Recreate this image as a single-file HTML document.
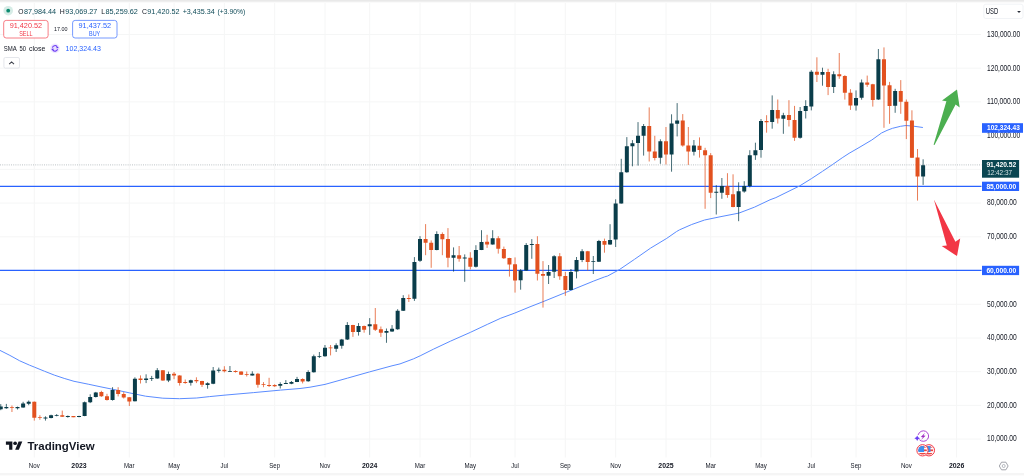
<!DOCTYPE html><html><head><meta charset="utf-8"><title>chart</title><style>html,body{margin:0;padding:0;background:#fff}svg{display:block;will-change:transform}text{font-family:"Liberation Sans",sans-serif}</style></head><body>
<svg width="1024" height="476" viewBox="0 0 1024 476">
<rect width="1024" height="476" fill="#fff"/>
<path d="M34.3 2.5V457.5 M79.0 2.5V457.5 M129.3 2.5V457.5 M174.1 2.5V457.5 M224.4 2.5V457.5 M274.7 2.5V457.5 M325.0 2.5V457.5 M369.7 2.5V457.5 M420.0 2.5V457.5 M470.3 2.5V457.5 M515.0 2.5V457.5 M565.3 2.5V457.5 M615.7 2.5V457.5 M666.0 2.5V457.5 M710.7 2.5V457.5 M761.0 2.5V457.5 M811.3 2.5V457.5 M856.0 2.5V457.5 M906.3 2.5V457.5 M956.6 2.5V457.5 M0 439.1H981 M0 405.4H981 M0 371.7H981 M0 338.0H981 M0 304.3H981 M0 270.5H981 M0 236.8H981 M0 203.1H981 M0 169.4H981 M0 135.7H981 M0 101.9H981 M0 68.2H981 M0 34.5H981" stroke="#f5f6f6" stroke-width="1" fill="none"/>
<path d="M0 186.4H981.5M0 270.45H981.5" stroke="#2962ff" stroke-width="1.3" fill="none"/>
<path d="M0 164.9H981.5" stroke="#bcc3c6" stroke-width="1" stroke-dasharray="1 1.2" fill="none"/>
<path d="M0.0 350.4 L9.9 355.4 L19.7 360.8 L29.6 365.2 L34.6 367.2 L44.4 371.2 L54.3 375.1 L64.2 378.4 L74.0 381.3 L79.0 382.3 L88.8 384.3 L100.0 386.7 L112.3 389.2 L129.2 392.8 L145.6 396.2 L162.8 398.2 L179.5 398.7 L196.7 398.0 L209.6 396.6 L224.0 395.2 L253.7 392.6 L280.6 390.1 L300.0 388.5 L310.0 387.2 L325.0 384.4 L347.6 378.1 L369.5 371.9 L392.0 365.8 L400.0 363.9 L413.4 358.9 L420.2 355.8 L433.6 349.1 L450.4 341.2 L470.5 332.3 L487.3 324.4 L500.8 318.2 L514.2 313.3 L530.0 306.8 L543.0 301.7 L565.4 292.6 L593.8 281.0 L604.6 276.9 L607.6 276.0 L619.4 269.6 L634.4 259.4 L650.6 248.1 L666.7 238.4 L676.6 231.5 L679.6 229.8 L691.7 224.5 L704.6 220.0 L720.0 216.8 L738.9 213.1 L754.4 207.2 L770.0 199.8 L775.9 197.6 L799.7 185.9 L811.6 178.5 L822.4 171.4 L832.3 164.7 L842.2 157.8 L849.1 153.3 L859.0 147.6 L871.8 140.0 L881.5 133.0 L887.0 130.4 L892.5 128.3 L900.5 126.3 L906.0 125.5 L913.7 126.2 L922.9 127.5" stroke="#5b8cff" stroke-width="1" fill="none" stroke-linejoin="round"/>
<path d="M0.76 404.1V410.2M6.35 403.9V408.8M17.53 406.6V409.5M23.12 401.8V407.8M28.71 400.5V405.2M45.48 416.3V420.6M51.07 414.7V418.4M56.66 414.1V416.3M67.84 415.5V417.7M79.02 415.8V417.3M84.61 401.5V416.2M90.20 394.3V403.1M95.79 391.9V397.5M112.56 387.2V400.6M134.92 377.3V401.4M146.10 374.3V383.1M151.69 375.9V381.0M157.28 368.1V378.8M168.46 371.6V382.1M190.82 379.7V385.6M207.59 382.3V388.7M213.18 367.0V384.2M218.77 367.6V372.6M229.95 366.0V371.8M252.31 371.3V375.6M280.26 382.3V388.5M285.85 380.1V383.8M291.44 381.0V384.2M297.03 376.9V382.1M308.21 370.3V381.8M313.80 354.6V372.6M319.39 352.0V358.0M324.98 345.0V356.8M336.16 343.3V352.0M341.75 338.9V348.7M347.34 322.1V340.0M358.52 323.1V335.6M369.70 318.1V334.9M386.47 328.5V342.8M392.06 325.1V331.9M397.65 309.2V329.8M403.24 295.2V311.0M414.42 257.1V300.9M420.01 236.1V261.9M436.78 231.3V250.3M453.55 247.4V271.6M464.73 254.4V281.8M475.91 245.2V267.5M481.50 230.2V250.1M492.68 230.2V244.7M520.63 269.2V289.7M526.22 243.1V270.8M531.81 239.1V258.8M548.58 265.0V284.0M554.17 255.2V278.0M570.94 269.0V290.3M576.53 257.0V278.4M582.12 249.2V262.1M593.30 256.0V274.0M598.89 239.9V262.0M610.07 224.2V244.9M615.66 199.3V247.0M621.25 158.8V203.6M626.84 137.1V172.8M632.43 140.1V166.3M638.02 122.1V165.6M643.61 124.0V155.6M660.38 139.3V163.8M671.56 114.3V171.7M677.15 103.1V136.4M693.92 140.0V155.5M716.28 185.2V214.5M721.87 178.0V198.8M738.64 182.3V221.2M744.23 181.2V192.7M749.82 150.2V187.4M755.41 142.7V159.9M761.00 119.0V157.7M772.18 95.4V128.7M783.36 112.8V133.8M800.13 107.0V138.6M805.72 100.2V118.5M811.31 70.2V110.4M822.49 67.7V85.7M833.67 71.3V93.0M856.03 90.4V110.6M861.62 79.5V99.7M878.39 49.0V100.0M895.16 88.8V112.8M923.11 159.3V184.9" stroke="#0a3d4a" stroke-width="0.75" fill="none"/>
<path d="M11.94 405.5V412.0M34.30 401.5V420.6M39.89 415.2V419.8M62.25 410.6V417.0M73.43 416.0V417.2M101.38 390.8V396.9M106.97 393.8V400.6M118.15 387.2V396.4M123.74 392.1V398.5M129.33 397.2V406.0M140.51 375.4V383.5M162.87 370.1V380.8M174.05 372.0V379.2M179.64 375.2V385.6M185.23 379.5V383.8M196.41 377.3V383.1M202.00 380.8V387.0M224.36 366.2V372.4M235.54 370.3V372.6M241.13 371.3V375.0M246.72 371.5V376.5M257.90 372.9V387.7M263.49 382.1V387.2M269.08 377.8V387.0M274.67 384.2V386.9M302.62 378.3V383.4M330.57 345.0V355.4M352.93 324.8V336.9M364.11 325.5V332.7M375.29 308.0V331.0M380.88 326.5V336.9M408.83 294.5V302.0M425.60 224.1V255.2M431.19 240.4V267.8M442.37 232.4V255.2M447.96 228.1V267.3M459.14 246.0V261.7M470.32 252.2V269.4M487.09 234.8V247.9M498.27 236.2V253.6M503.86 246.6V259.0M509.45 257.8V276.6M515.04 257.4V292.6M537.40 236.2V280.5M542.99 261.1V307.6M559.76 253.1V279.8M565.35 271.9V295.8M587.71 250.9V270.5M604.48 238.6V252.7M649.20 107.4V161.5M654.79 135.8V160.4M665.97 127.0V164.5M682.74 114.1V146.7M688.33 127.0V164.9M699.51 137.4V157.6M705.10 147.8V208.8M710.69 153.1V198.1M727.46 173.2V197.8M733.05 174.3V207.3M766.59 115.2V132.7M777.77 99.5V123.5M788.95 100.2V126.5M794.54 105.9V140.9M816.90 57.3V82.0M828.08 68.8V95.1M839.26 53.0V78.8M844.85 75.2V99.6M850.44 89.2V109.9M867.21 75.6V86.9M872.80 83.8V106.6M883.98 47.4V127.8M889.57 81.9V123.8M900.75 80.1V113.8M906.34 99.5V139.1M911.93 110.3V158.0M917.52 149.0V200.6" stroke="#e2511f" stroke-width="0.75" fill="none"/>
<path d="M-1.24 406.4h4V409.3h-4zM4.35 407.1h4V408.2h-4zM15.53 407.1h4V408.2h-4zM21.12 403.4h4V407.4h-4zM26.71 401.8h4V403.7h-4zM43.48 417.4h4V418.4h-4zM49.07 415.2h4V417.9h-4zM54.66 414.9h4V415.8h-4zM65.84 416.1h4V416.9h-4zM77.02 416.0h4V417.1h-4zM82.61 402.3h4V416.0h-4zM88.20 396.9h4V402.3h-4zM93.79 392.6h4V396.9h-4zM110.56 389.9h4V400.1h-4zM132.92 378.8h4V401.2h-4zM144.10 378.4h4V379.9h-4zM149.69 377.9h4V378.8h-4zM155.28 370.3h4V378.6h-4zM166.46 374.1h4V380.6h-4zM188.82 380.2h4V382.7h-4zM205.59 383.3h4V384.9h-4zM211.18 370.5h4V383.7h-4zM216.77 369.8h4V370.7h-4zM227.95 370.9h4V371.8h-4zM250.31 373.7h4V375.4h-4zM278.26 384.0h4V385.8h-4zM283.85 383.0h4V383.9h-4zM289.44 382.1h4V383.7h-4zM295.03 379.1h4V381.9h-4zM306.21 372.0h4V381.3h-4zM311.80 356.3h4V372.2h-4zM317.39 355.9h4V356.8h-4zM322.98 347.8h4V356.3h-4zM334.16 345.3h4V348.7h-4zM339.75 339.4h4V345.7h-4zM345.34 325.1h4V339.4h-4zM356.52 326.0h4V331.9h-4zM367.70 324.3h4V326.3h-4zM384.47 331.0h4V332.7h-4zM390.06 328.8h4V331.5h-4zM395.65 310.8h4V329.3h-4zM401.24 298.1h4V310.8h-4zM412.42 262.1h4V298.8h-4zM418.01 239.1h4V260.8h-4zM434.78 234.0h4V250.1h-4zM451.55 255.2h4V257.8h-4zM462.73 257.6h4V258.4h-4zM473.91 250.1h4V266.7h-4zM479.50 242.0h4V249.9h-4zM490.68 238.3h4V244.5h-4zM518.63 270.4h4V280.2h-4zM524.22 245.0h4V270.6h-4zM529.81 243.9h4V244.9h-4zM546.58 271.9h4V275.7h-4zM552.17 256.3h4V271.7h-4zM568.94 271.9h4V290.1h-4zM574.53 260.0h4V271.6h-4zM580.12 251.3h4V259.9h-4zM591.30 260.9h4V261.8h-4zM596.89 240.9h4V261.7h-4zM608.07 240.0h4V244.5h-4zM613.66 203.4h4V239.5h-4zM619.25 172.2h4V203.4h-4zM624.84 146.2h4V172.2h-4zM630.43 143.2h4V146.2h-4zM636.02 135.8h4V143.1h-4zM641.61 126.1h4V135.8h-4zM658.38 141.2h4V157.7h-4zM669.56 123.5h4V154.5h-4zM675.15 120.6h4V123.8h-4zM691.92 145.6h4V151.8h-4zM714.28 191.7h4V192.7h-4zM719.87 186.1h4V192.7h-4zM736.64 191.3h4V207.0h-4zM742.23 186.1h4V191.6h-4zM747.82 155.2h4V186.1h-4zM753.41 150.2h4V155.2h-4zM759.00 121.1h4V149.9h-4zM770.18 109.9h4V122.0h-4zM781.36 115.2h4V118.8h-4zM798.13 110.9h4V137.8h-4zM803.72 106.1h4V110.9h-4zM809.31 71.7h4V106.6h-4zM820.49 72.0h4V74.7h-4zM831.67 74.2h4V87.1h-4zM854.03 98.1h4V105.6h-4zM859.62 82.4h4V97.8h-4zM876.39 59.2h4V99.5h-4zM893.16 91.0h4V105.8h-4zM921.11 165.2h4V176.5h-4z" fill="#0a3d4a"/>
<path d="M9.94 406.9h4V407.8h-4zM32.30 401.8h4V417.7h-4zM37.89 417.2h4V418.1h-4zM60.25 415.2h4V416.8h-4zM71.43 416.0h4V417.2h-4zM99.38 392.1h4V396.3h-4zM104.97 396.3h4V400.1h-4zM116.15 389.9h4V393.9h-4zM121.74 393.9h4V397.4h-4zM127.33 397.2h4V401.4h-4zM138.51 378.4h4V379.9h-4zM160.87 370.3h4V380.6h-4zM172.05 373.8h4V375.6h-4zM177.64 375.4h4V382.9h-4zM183.23 382.1h4V383.0h-4zM194.41 379.9h4V381.3h-4zM200.00 381.0h4V384.8h-4zM222.36 369.7h4V371.3h-4zM233.54 371.0h4V371.9h-4zM239.13 371.5h4V374.8h-4zM244.72 373.9h4V374.8h-4zM255.90 373.7h4V384.8h-4zM261.49 383.9h4V384.8h-4zM267.08 385.1h4V385.9h-4zM272.67 385.1h4V386.2h-4zM300.62 379.1h4V381.5h-4zM328.57 347.4h4V348.3h-4zM350.93 325.1h4V331.9h-4zM362.11 326.0h4V329.8h-4zM373.29 324.3h4V329.8h-4zM378.88 329.3h4V332.7h-4zM406.83 298.0h4V298.9h-4zM423.60 239.1h4V242.8h-4zM429.19 242.8h4V250.1h-4zM440.37 234.0h4V239.3h-4zM445.96 239.1h4V257.8h-4zM457.14 255.2h4V258.7h-4zM468.32 257.8h4V266.7h-4zM485.09 241.7h4V244.5h-4zM496.27 238.2h4V248.8h-4zM501.86 249.0h4V258.3h-4zM507.45 258.0h4V264.4h-4zM513.04 264.2h4V280.4h-4zM535.40 244.0h4V273.7h-4zM540.99 273.9h4V275.7h-4zM557.76 256.3h4V276.3h-4zM563.35 276.1h4V289.9h-4zM585.71 251.2h4V262.0h-4zM602.48 240.9h4V244.7h-4zM647.20 126.1h4V151.6h-4zM652.79 151.6h4V158.0h-4zM663.97 141.2h4V154.5h-4zM680.74 120.6h4V145.6h-4zM686.33 145.6h4V151.6h-4zM697.51 145.7h4V150.1h-4zM703.10 150.2h4V155.3h-4zM708.69 155.2h4V192.7h-4zM725.46 186.1h4V194.9h-4zM731.05 194.3h4V207.0h-4zM764.59 120.9h4V122.2h-4zM775.77 109.9h4V118.5h-4zM786.95 114.9h4V119.9h-4zM792.54 120.1h4V137.8h-4zM814.90 71.7h4V74.7h-4zM826.08 72.0h4V87.1h-4zM837.26 74.2h4V76.3h-4zM842.85 76.0h4V92.7h-4zM848.44 92.8h4V105.6h-4zM865.21 82.4h4V84.7h-4zM870.80 84.2h4V99.9h-4zM881.98 59.2h4V85.6h-4zM887.57 85.2h4V106.0h-4zM898.75 91.0h4V101.7h-4zM904.34 101.7h4V120.8h-4zM909.93 120.6h4V157.7h-4zM915.52 157.4h4V176.5h-4z" fill="#e2511f"/>
<path d="M957 89.4L959.7 107.6L955.6 104.4L934.5 145L933.6 144.7L946.4 101.2L942 100.5Z" fill="#4caf50"/>
<path d="M933.9 199.4L955.4 241.7L960.2 238.5L957 256.1L941.7 245.9L946.8 245.4Z" fill="#f23645"/>
<rect x="0" y="0" width="1024" height="1" fill="#e9e9e9"/><rect x="0" y="1" width="1024" height="1" fill="#efefef"/><rect x="0" y="2" width="1024" height="1" fill="#fafafa"/>
<rect x="0" y="473" width="1024" height="2" fill="#f5f5f5"/><rect x="0" y="475" width="1024" height="1" fill="#fbfbfb"/>
<text x="987" y="441.4" font-size="8.2" fill="#131722" font-weight="normal" text-anchor="start" textLength="29.8" lengthAdjust="spacingAndGlyphs">10,000.00</text>
<text x="987" y="407.7" font-size="8.2" fill="#131722" font-weight="normal" text-anchor="start" textLength="29.8" lengthAdjust="spacingAndGlyphs">20,000.00</text>
<text x="987" y="374.0" font-size="8.2" fill="#131722" font-weight="normal" text-anchor="start" textLength="29.8" lengthAdjust="spacingAndGlyphs">30,000.00</text>
<text x="987" y="340.3" font-size="8.2" fill="#131722" font-weight="normal" text-anchor="start" textLength="29.8" lengthAdjust="spacingAndGlyphs">40,000.00</text>
<text x="987" y="306.6" font-size="8.2" fill="#131722" font-weight="normal" text-anchor="start" textLength="29.8" lengthAdjust="spacingAndGlyphs">50,000.00</text>
<text x="987" y="272.8" font-size="8.2" fill="#131722" font-weight="normal" text-anchor="start" textLength="29.8" lengthAdjust="spacingAndGlyphs">60,000.00</text>
<text x="987" y="239.1" font-size="8.2" fill="#131722" font-weight="normal" text-anchor="start" textLength="29.8" lengthAdjust="spacingAndGlyphs">70,000.00</text>
<text x="987" y="205.4" font-size="8.2" fill="#131722" font-weight="normal" text-anchor="start" textLength="29.8" lengthAdjust="spacingAndGlyphs">80,000.00</text>
<text x="987" y="171.7" font-size="8.2" fill="#131722" font-weight="normal" text-anchor="start" textLength="29.8" lengthAdjust="spacingAndGlyphs">90,000.00</text>
<text x="987" y="138.0" font-size="8.2" fill="#131722" font-weight="normal" text-anchor="start" textLength="33.2" lengthAdjust="spacingAndGlyphs">100,000.00</text>
<text x="987" y="104.2" font-size="8.2" fill="#131722" font-weight="normal" text-anchor="start" textLength="33.2" lengthAdjust="spacingAndGlyphs">110,000.00</text>
<text x="987" y="70.5" font-size="8.2" fill="#131722" font-weight="normal" text-anchor="start" textLength="33.2" lengthAdjust="spacingAndGlyphs">120,000.00</text>
<text x="987" y="36.8" font-size="8.2" fill="#131722" font-weight="normal" text-anchor="start" textLength="33.2" lengthAdjust="spacingAndGlyphs">130,000.00</text>
<rect x="982" y="123.2" width="41" height="9.6" fill="#2962ff"/>
<text x="987.1" y="130.3" font-size="7" fill="#fff" font-weight="bold" text-anchor="start" textLength="32.7" lengthAdjust="spacingAndGlyphs">102,324.43</text>
<rect x="982" y="160" width="37.1" height="17.7" fill="#0b4651"/>
<text x="986.4" y="166.9" font-size="7" fill="#fff" font-weight="bold" text-anchor="start" textLength="29.8" lengthAdjust="spacingAndGlyphs">91,420.52</text>
<text x="987.2" y="174.8" font-size="6.6" fill="#d5e2e4" font-weight="normal" text-anchor="start" textLength="24.8" lengthAdjust="spacingAndGlyphs">12:42:37</text>
<rect x="982" y="181.7" width="37.1" height="9.3" fill="#2962ff"/>
<text x="986.4" y="188.7" font-size="7" fill="#fff" font-weight="bold" text-anchor="start" textLength="29.8" lengthAdjust="spacingAndGlyphs">85,000.00</text>
<rect x="982" y="265.8" width="37.1" height="9.3" fill="#2962ff"/>
<text x="986.4" y="272.9" font-size="7" fill="#fff" font-weight="bold" text-anchor="start" textLength="29.8" lengthAdjust="spacingAndGlyphs">60,000.00</text>
<rect x="983.8" y="4.2" width="39.2" height="14.3" rx="2" fill="#fff" stroke="#eef0f4" stroke-width="0.8"/>
<text x="985.8" y="13.9" font-size="8.3" fill="#131722" font-weight="normal" text-anchor="start" textLength="12.4" lengthAdjust="spacingAndGlyphs">USD</text>
<path d="M1017.1 10.9h3.8l-1.9 2.1z" fill="#2a2e39"/>
<text x="28.8" y="468" font-size="7" fill="#131722" font-weight="normal" text-anchor="start" textLength="10.9" lengthAdjust="spacingAndGlyphs">Nov</text>
<text x="71.3" y="468" font-size="7" fill="#131722" font-weight="bold" text-anchor="start" textLength="15.4" lengthAdjust="spacingAndGlyphs">2023</text>
<text x="124.0" y="468" font-size="7" fill="#131722" font-weight="normal" text-anchor="start" textLength="10.6" lengthAdjust="spacingAndGlyphs">Mar</text>
<text x="168.2" y="468" font-size="7" fill="#131722" font-weight="normal" text-anchor="start" textLength="11.6" lengthAdjust="spacingAndGlyphs">May</text>
<text x="220.6" y="468" font-size="7" fill="#131722" font-weight="normal" text-anchor="start" textLength="7.6" lengthAdjust="spacingAndGlyphs">Jul</text>
<text x="269.3" y="468" font-size="7" fill="#131722" font-weight="normal" text-anchor="start" textLength="10.8" lengthAdjust="spacingAndGlyphs">Sep</text>
<text x="319.5" y="468" font-size="7" fill="#131722" font-weight="normal" text-anchor="start" textLength="10.9" lengthAdjust="spacingAndGlyphs">Nov</text>
<text x="362.0" y="468" font-size="7" fill="#131722" font-weight="bold" text-anchor="start" textLength="15.4" lengthAdjust="spacingAndGlyphs">2024</text>
<text x="414.7" y="468" font-size="7" fill="#131722" font-weight="normal" text-anchor="start" textLength="10.6" lengthAdjust="spacingAndGlyphs">Mar</text>
<text x="464.5" y="468" font-size="7" fill="#131722" font-weight="normal" text-anchor="start" textLength="11.6" lengthAdjust="spacingAndGlyphs">May</text>
<text x="511.2" y="468" font-size="7" fill="#131722" font-weight="normal" text-anchor="start" textLength="7.6" lengthAdjust="spacingAndGlyphs">Jul</text>
<text x="559.9" y="468" font-size="7" fill="#131722" font-weight="normal" text-anchor="start" textLength="10.8" lengthAdjust="spacingAndGlyphs">Sep</text>
<text x="610.2" y="468" font-size="7" fill="#131722" font-weight="normal" text-anchor="start" textLength="10.9" lengthAdjust="spacingAndGlyphs">Nov</text>
<text x="658.3" y="468" font-size="7" fill="#131722" font-weight="bold" text-anchor="start" textLength="15.4" lengthAdjust="spacingAndGlyphs">2025</text>
<text x="705.4" y="468" font-size="7" fill="#131722" font-weight="normal" text-anchor="start" textLength="10.6" lengthAdjust="spacingAndGlyphs">Mar</text>
<text x="755.2" y="468" font-size="7" fill="#131722" font-weight="normal" text-anchor="start" textLength="11.6" lengthAdjust="spacingAndGlyphs">May</text>
<text x="807.5" y="468" font-size="7" fill="#131722" font-weight="normal" text-anchor="start" textLength="7.6" lengthAdjust="spacingAndGlyphs">Jul</text>
<text x="850.6" y="468" font-size="7" fill="#131722" font-weight="normal" text-anchor="start" textLength="10.8" lengthAdjust="spacingAndGlyphs">Sep</text>
<text x="900.9" y="468" font-size="7" fill="#131722" font-weight="normal" text-anchor="start" textLength="10.9" lengthAdjust="spacingAndGlyphs">Nov</text>
<text x="948.9" y="468" font-size="7" fill="#131722" font-weight="bold" text-anchor="start" textLength="15.4" lengthAdjust="spacingAndGlyphs">2026</text>
<path d="M999.3 466l2.2-3.8h4.4l2.2 3.8l-2.2 3.8h-4.4z" fill="none" stroke="#8a8d96" stroke-width="0.8"/><circle cx="1003.7" cy="466" r="1.5" fill="none" stroke="#9a9da6" stroke-width="0.7"/>
<g transform="translate(5.9,439.55) scale(0.462)" fill="#131722"><path d="M14 22H7V11H0V4h14v18zM28 22h-8l7.5-18h8L28 22z"/><circle cx="20" cy="8" r="4"/></g>
<text x="27.5" y="450.0" font-size="10.4" fill="#131722" font-weight="bold" text-anchor="start" textLength="67.2" lengthAdjust="spacingAndGlyphs">TradingView</text>
<path d="M918.23 434.55A5.3 5.3 0 1 1 919.69 439.98" fill="none" stroke="#a93ccf" stroke-width="0.95" stroke-linecap="round"/>
<path d="M925 432.8L920.8 436.9L922.9 437.2L921 439.9L925.6 435.7L923.5 435.4Z" fill="#a02fc4"/>
<path d="M917.2 435.5Q917.7 437.8 920 438.3Q917.7 438.8 917.2 441.1Q916.7 438.8 914.4 438.3Q916.7 437.8 917.2 435.5Z" fill="#6a3df5"/>
<clipPath id="f2"><circle cx="928.9" cy="450.3" r="4.4"/></clipPath>
<circle cx="928.9" cy="450.3" r="5.65" fill="#fff" stroke="#f23645" stroke-width="1"/>
<g clip-path="url(#f2)">
<rect x="924.5" y="445.90000000000003" width="8.8" height="8.8" fill="#fff"/>
<rect x="924.5" y="445.90" width="8.8" height="1.76" fill="#f0453f"/>
<rect x="924.5" y="449.42" width="8.8" height="1.76" fill="#f0453f"/>
<rect x="924.5" y="452.94" width="8.8" height="1.76" fill="#f0453f"/>
<rect x="924.5" y="445.90000000000003" width="6.0" height="6.1000000000000005" fill="#3d90f0"/>
</g>
<clipPath id="f1"><circle cx="922.5" cy="450.3" r="4.4"/></clipPath>
<circle cx="922.5" cy="450.3" r="5.65" fill="#fff" stroke="#f23645" stroke-width="1"/>
<g clip-path="url(#f1)">
<rect x="918.1" y="445.90000000000003" width="8.8" height="8.8" fill="#fff"/>
<rect x="918.1" y="445.90" width="8.8" height="1.76" fill="#f0453f"/>
<rect x="918.1" y="449.42" width="8.8" height="1.76" fill="#f0453f"/>
<rect x="918.1" y="452.94" width="8.8" height="1.76" fill="#f0453f"/>
<rect x="918.1" y="445.90000000000003" width="6.0" height="6.1000000000000005" fill="#3d90f0"/>
</g>
<circle cx="8.2" cy="10.7" r="4.8" fill="#d6ece6"/><circle cx="8.2" cy="10.7" r="1.9" fill="#0b8a6f"/>
<text x="18.3" y="13.7" font-size="7.7" fill="#131722" font-weight="normal" text-anchor="start" textLength="5.2" lengthAdjust="spacingAndGlyphs">O</text>
<text x="23.9" y="13.7" font-size="7.7" fill="#0e4a57" font-weight="normal" text-anchor="start" textLength="32.2" lengthAdjust="spacingAndGlyphs">87,984.44</text>
<text x="59.8" y="13.7" font-size="7.7" fill="#131722" font-weight="normal" text-anchor="start" textLength="5.0" lengthAdjust="spacingAndGlyphs">H</text>
<text x="65.2" y="13.7" font-size="7.7" fill="#0e4a57" font-weight="normal" text-anchor="start" textLength="32.2" lengthAdjust="spacingAndGlyphs">93,069.27</text>
<text x="101.3" y="13.7" font-size="7.7" fill="#131722" font-weight="normal" text-anchor="start" textLength="3.8" lengthAdjust="spacingAndGlyphs">L</text>
<text x="105.5" y="13.7" font-size="7.7" fill="#0e4a57" font-weight="normal" text-anchor="start" textLength="32.4" lengthAdjust="spacingAndGlyphs">85,259.62</text>
<text x="141.9" y="13.7" font-size="7.7" fill="#131722" font-weight="normal" text-anchor="start" textLength="5.0" lengthAdjust="spacingAndGlyphs">C</text>
<text x="147.3" y="13.7" font-size="7.7" fill="#0e4a57" font-weight="normal" text-anchor="start" textLength="32.2" lengthAdjust="spacingAndGlyphs">91,420.52</text>
<text x="182.7" y="13.7" font-size="7.7" fill="#0e4a57" font-weight="normal" text-anchor="start" textLength="32.0" lengthAdjust="spacingAndGlyphs">+3,435.34</text>
<text x="217.6" y="13.7" font-size="7.7" fill="#0e4a57" font-weight="normal" text-anchor="start" textLength="27.6" lengthAdjust="spacingAndGlyphs">(+3.90%)</text>
<rect x="3.7" y="20.4" width="44.4" height="17.6" rx="2.5" fill="#fff" stroke="#f4545f" stroke-width="0.75"/>
<text x="25.9" y="28.4" font-size="7.6" fill="#f23645" font-weight="normal" text-anchor="middle" textLength="32.5" lengthAdjust="spacingAndGlyphs">91,420.52</text>
<text x="25.8" y="36.0" font-size="7.1" fill="#f23645" font-weight="normal" text-anchor="middle" textLength="13.3" lengthAdjust="spacingAndGlyphs">SELL</text>
<text x="54" y="31.1" font-size="5.8" fill="#131722" font-weight="normal" text-anchor="start" textLength="13.5" lengthAdjust="spacingAndGlyphs">17.00</text>
<rect x="72.6" y="20.4" width="44.4" height="17.6" rx="2.5" fill="#fff" stroke="#4a7aff" stroke-width="0.75"/>
<text x="94.8" y="28.4" font-size="7.6" fill="#2962ff" font-weight="normal" text-anchor="middle" textLength="32.5" lengthAdjust="spacingAndGlyphs">91,437.52</text>
<text x="94.6" y="36.0" font-size="7.1" fill="#2962ff" font-weight="normal" text-anchor="middle" textLength="11.2" lengthAdjust="spacingAndGlyphs">BUY</text>
<text x="3.8" y="51.1" font-size="7.3" fill="#131722" font-weight="normal" text-anchor="start" textLength="13.0" lengthAdjust="spacingAndGlyphs">SMA</text>
<text x="19.5" y="51.1" font-size="7.3" fill="#131722" font-weight="normal" text-anchor="start" textLength="6.5" lengthAdjust="spacingAndGlyphs">50</text>
<text x="29.0" y="51.1" font-size="7.3" fill="#131722" font-weight="normal" text-anchor="start" textLength="16.4" lengthAdjust="spacingAndGlyphs">close</text>
<circle cx="55" cy="48.4" r="4.9" fill="#f1ebfe"/><circle cx="55" cy="48.4" r="3.9" fill="#e9dffd"/>
<path d="M52.4 47.6A2.7 2.7 0 0 1 57.1 46.6M57.6 49.2A2.7 2.7 0 0 1 52.9 50.2" fill="none" stroke="#6f3ff5" stroke-width="1.05"/>
<path d="M56.6 45.9L58.9 47.9L56.5 48.2ZM53.4 50.9L51.1 48.9L53.5 48.6Z" fill="#5a2df0"/>
<text x="65.6" y="51.1" font-size="7.3" fill="#2962ff" font-weight="normal" text-anchor="start" textLength="35.3" lengthAdjust="spacingAndGlyphs">102,324.43</text>
<rect x="3.9" y="57.5" width="15.6" height="10.6" rx="1.5" fill="#fff" stroke="#dde0e6" stroke-width="0.8"/>
<path d="M9.2 64.1l2.4-2.2l2.4 2.2" fill="none" stroke="#3c3f4a" stroke-width="1.1"/>
</svg></body></html>
